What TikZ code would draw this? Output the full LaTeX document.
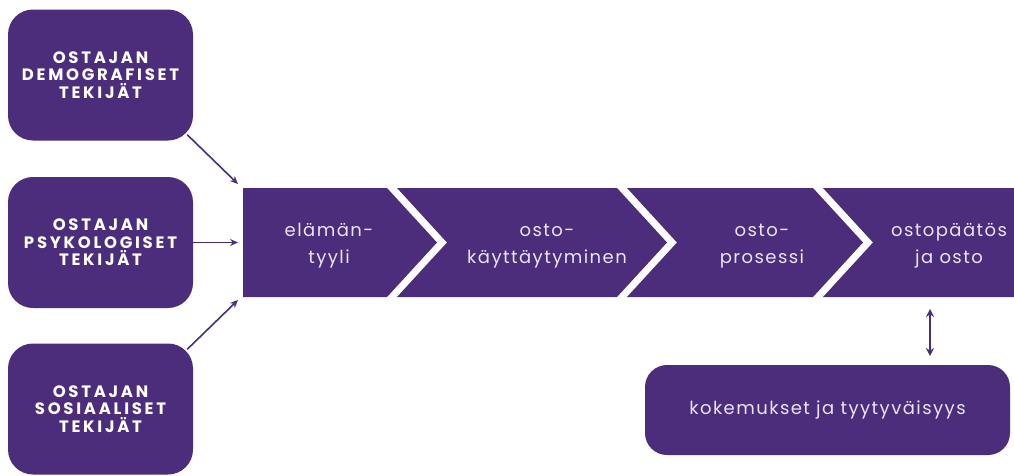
\documentclass[tikz,border=0pt]{standalone}
\usepackage{fontspec}
\setmainfont{Poppins}
\newfontfamily\capsfont{Poppins}[LetterSpace=16.5]
\newfontfamily\lowfont{Poppins}[LetterSpace=8]
\usetikzlibrary{arrows.meta}
\definecolor{vio}{HTML}{4B2D7C}
\definecolor{txt}{HTML}{EAE3F2}
\tikzset{
  factor/.style={fill=vio, rounded corners=25pt, minimum width=185pt, minimum height=131pt,
    text=white, align=center, font=\fontsize{16.5}{17.5}\selectfont\capsfont\bfseries, inner sep=0pt},
  chev/.style={fill=vio},
  chevtext/.style={text=txt, align=center, font=\lowfont\fontsize{18}{27}\selectfont, inner sep=0pt},
  conn/.style={draw=vio, line width=1.6pt, -{Stealth[length=8pt,width=7pt]}},
  dconn/.style={draw=vio, line width=1.6pt, {Stealth[length=8pt,width=8pt]}-{Stealth[length=8pt,width=8pt]}},
}
\begin{document}
\begin{tikzpicture}[x=1pt,y=-1pt]
\useasboundingbox[fill=white] (0,0) rectangle (1014,475);
% factor boxes
\node[factor] (b1) at (100.5,75) {OSTAJAN\\DEMOGRAFISET\\TEKIJÄT};
\node[factor] (b2) at (100.5,242.5) {OSTAJAN\\PSYKOLOGISET\\TEKIJÄT};
\node[factor] (b3) at (100.5,409) {OSTAJAN\\SOSIAALISET\\TEKIJÄT};
% chevrons
\fill[chev] (243,188) -- (387,188) -- (437,242.5) -- (387,297) -- (243,297) -- cycle;
\fill[chev] (397,188) -- (617,188) -- (667,242.5) -- (617,297) -- (397,297) -- (447,242.5) -- cycle;
\fill[chev] (627,188) -- (813,188) -- (863,242.5) -- (813,297) -- (627,297) -- (677,242.5) -- cycle;
\fill[chev] (823,188) -- (1014,188) -- (1014,297) -- (823,297) -- (873,242.5) -- cycle;
\node[chevtext] (s1) at (329,246) {elämän-\\tyyli};
\node[chevtext] (s2) at (547,246) {osto-\\käyttäytyminen};
\node[chevtext] (s3) at (762,246) {osto-\\prosessi};
\node[chevtext] (s4) at (949,246) {ostopäätös\\ja osto};
% bottom box
\node[fill=vio, rounded corners=22pt, minimum width=365pt, minimum height=90pt, inner sep=0pt,
  text=txt, font=\lowfont\fontsize{18}{22}\selectfont] (k) at (827.5,410) {kokemukset ja tyytyväisyys};
% connector ends
\coordinate (t1) at (238,184);
\coordinate (t2) at (238,242.5);
\coordinate (t3) at (238,300);
\coordinate (d1) at (930,309);
\coordinate (d2) at (930,356);
\draw[conn] ([shift={(-6pt,6pt)}]b1.south east) -- (t1);
\draw[conn] (b2.east) -- (t2);
\draw[conn] ([shift={(-6pt,-6pt)}]b3.north east) -- (t3);
\draw[dconn] (d1) -- (d2);
\end{tikzpicture}
\end{document}
